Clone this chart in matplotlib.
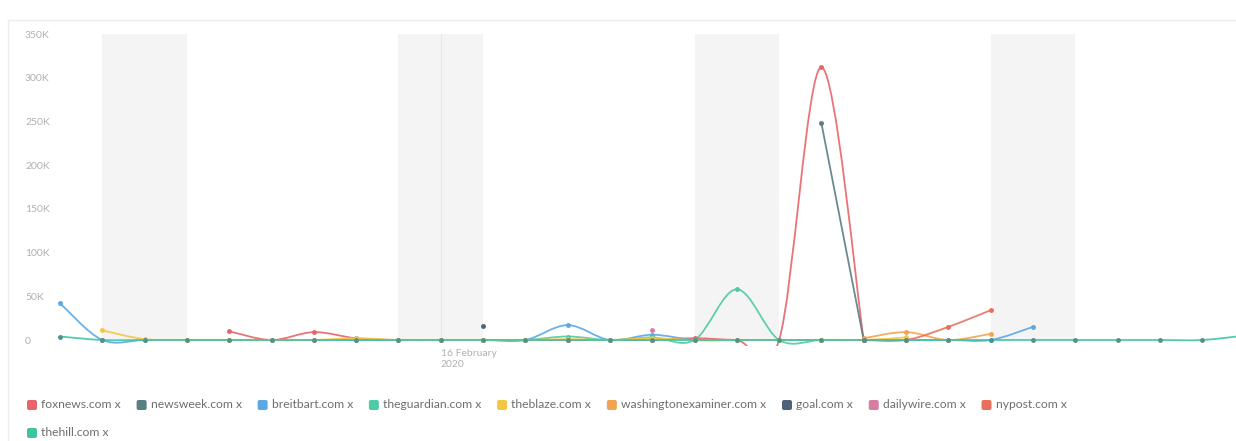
import numpy as np
import pandas as pd
import matplotlib
matplotlib.use('Agg')
import matplotlib.pyplot as plt
from matplotlib.path import Path
from matplotlib.patches import PathPatch, FancyBboxPatch
from matplotlib.lines import Line2D
from matplotlib.transforms import IdentityTransform

plt.rcParams['font.family'] = ['Lato', 'DejaVu Sans']

nan = np.nan

# dias (a partir de 7 fev 2020)
datas = pd.date_range('2020-02-07', periods=29, freq='D')

# valores em milhares (K)
foxnews = [nan, nan, nan, nan, 10, 0, 9, 2, 0, 0, 0, 0, 0, 0, 0, 2, 0, 0, 312, 0,
           nan, nan, nan, nan, nan, nan, nan, nan, nan]
newsweek = [nan] * 18 + [248, 0] + [nan] * 9
breitbart = [42, 0, 0, 0, 0, 0, 0, 0, 0, 0, 0, 0, 17, 0, 6, 0, 0, 0, 0, 0, 0, 0, 0, 15,
             nan, nan, nan, nan, nan]
theguardian = [nan] * 9 + [0, 0, 0, 4, 0, 3, 0, 58, 0, 0, 0] + [nan] * 9
theblaze = [nan, 11, 1, 0, 0, 0, 0, 2, 0, 0, 0, 0, 1, 0, 2, 0, 0, 0, 0, 0, 3,
            nan, nan, nan, nan, nan, nan, nan, nan]
washingtonexaminer = [nan] * 19 + [2, 9, 0, 7] + [nan] * 6
goal = [nan] * 10 + [16] + [nan] * 18
dailywire = [nan] * 14 + [12] + [nan] * 14
nypost = [nan] * 19 + [0, 0, 15, 34] + [nan] * 6
thehill = [4] + [0] * 27 + [5]

series = [
    ('foxnews.com', foxnews, '#e8646a'),
    ('newsweek.com', newsweek, '#5a7f82'),
    ('breitbart.com', breitbart, '#5ca8e4'),
    ('theguardian.com', theguardian, '#4ecaa8'),
    ('theblaze.com', theblaze, '#f5c644'),
    ('washingtonexaminer.com', washingtonexaminer, '#f0a452'),
    ('goal.com', goal, '#4e6379'),
    ('dailywire.com', dailywire, '#d97ca2'),
    ('nypost.com', nypost, '#e96f5c'),
    ('thehill.com', thehill, '#3fc4a2'),
]

# fins de semana (inicio sabado)
fins_semana = ['2020-02-08', '2020-02-15', '2020-02-22', '2020-02-29']


def curva_suave(x, y):
    """Caminho Bezier (Catmull-Rom) ligando os pontos de cada trecho."""
    verts, codes = [], []
    y = np.asarray(y, dtype=float)
    ok = ~np.isnan(y)
    i = 0
    n = len(y)
    while i < n:
        if not ok[i]:
            i += 1
            continue
        j = i
        while j + 1 < n and ok[j + 1]:
            j += 1
        xs, ys = x[i:j + 1], y[i:j + 1]
        verts.append((xs[0], ys[0]))
        codes.append(Path.MOVETO)
        m = len(xs)
        for k in range(m - 1):
            p0 = k - 1 if k > 0 else k
            p3 = k + 2 if k + 2 < m else k + 1
            c1 = (xs[k] + (xs[k + 1] - xs[p0]) / 6, ys[k] + (ys[k + 1] - ys[p0]) / 6)
            c2 = (xs[k + 1] - (xs[p3] - xs[k]) / 6, ys[k + 1] - (ys[p3] - ys[k]) / 6)
            verts += [c1, c2, (xs[k + 1], ys[k + 1])]
            codes += [Path.CURVE4] * 3
        i = j + 1
    if not verts:
        return None
    return Path(verts, codes)


W, H = 1236, 441
fig = plt.figure(figsize=(W / 100, H / 100), dpi=100)
ax = fig.add_axes([55 / W, (H - 346) / H, (W - 55) / W, (346 - 30) / H])

x = np.arange(len(datas))
escala = 306 / 350.0
ax.set_xlim(-5 / 42.3, -5 / 42.3 + (W - 55) / 42.3)
ax.set_ylim(-6 / escala, 350 + 4 / escala)

for d in fins_semana:
    k = (pd.Timestamp(d) - datas[0]).days
    ax.fill_between([k, k + 2], 0, 350, color='#f4f4f4', lw=0, zorder=0)
ax.plot([9, 9], [0, 350], color='#e8e8e8', lw=0.8, zorder=0.5)

for nome, valores, cor in series:
    p = curva_suave(x, valores)
    if p is not None:
        ax.add_patch(PathPatch(p, fill=False, edgecolor=cor, lw=1.3, alpha=0.9, zorder=2))
    mcor = '#55918a' if nome == 'thehill.com' else cor
    ax.plot(x, valores, ls='none', marker='o', ms=2.5, color=mcor, zorder=3)

for s in ax.spines.values():
    s.set_visible(False)

ax.set_yticks([0, 50, 100, 150, 200, 250, 300, 350])
ax.set_yticklabels(['0', '50K', '100K', '150K', '200K', '250K', '300K', '350K'])
ax.tick_params(axis='y', length=0, pad=30 * 0.72, labelsize=7.5, labelcolor='#b0b0b0')
for t in ax.get_yticklabels():
    t.set_horizontalalignment('left')

ax.set_xticks([9])
ax.set_xticklabels(['16 February\n2020'], ha='left', linespacing=1.25)
ax.tick_params(axis='x', length=0, pad=2, labelsize=7.5, labelcolor='#b0b0b0')

# bordas claras do painel
fig.add_artist(Line2D([8, W], [H - 20, H - 20], color='#ececec', lw=1, transform=IdentityTransform()))
fig.add_artist(Line2D([8, 8], [0, H - 20], color='#ececec', lw=1, transform=IdentityTransform()))

# legenda manual
renderer = fig.canvas.get_renderer()
linhas = [series[:9], series[9:]]
y_linhas = [H - 405, H - 433]
for itens, yc in zip(linhas, y_linhas):
    xc = 27
    for nome, valores, cor in itens:
        fig.add_artist(FancyBboxPatch((xc, yc - 5), 10, 10, boxstyle='round,pad=0,rounding_size=2',
                                      facecolor=cor, edgecolor='none', transform=IdentityTransform()))
        t = fig.text(xc + 14, yc, nome + ' x', fontsize=8.75, color='#6e6e6e', va='center',
                     transform=IdentityTransform())
        bb = t.get_window_extent(renderer)
        xc = bb.x1 + 16

fig.savefig('out.png', dpi=100)
